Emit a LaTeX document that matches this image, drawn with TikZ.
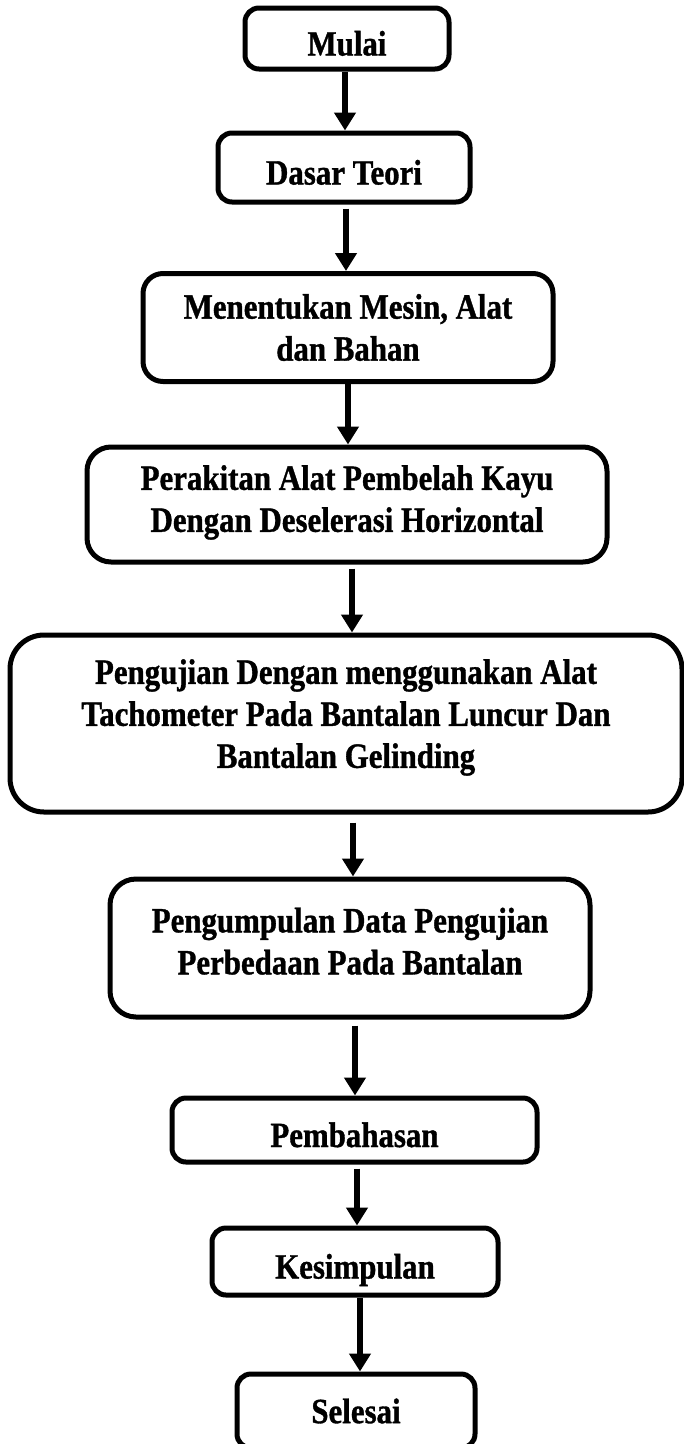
\documentclass[tikz,border=0pt]{standalone}
\usepackage{fontspec}
\setmainfont{Liberation Serif}[FakeStretch=0.87, BoldFeatures={FakeBold=1}]
\usetikzlibrary{arrows.meta}
\tikzset{
  box/.style={draw=black, line width=5pt, rounded corners=14pt, inner sep=0pt,
    align=center, font=\fontsize{35.5}{42}\selectfont\bfseries},
  oneline/.style={text height=34pt, text depth=0pt},
  arr/.style={line width=6pt, -{Triangle[width=21pt,length=18pt]}},
}
\begin{document}
\begin{tikzpicture}[x=1pt,y=-1pt]
\useasboundingbox (0,0) rectangle (684,1444);
\clip (0,0) rectangle (684,1444);
\node[box, oneline, minimum width=204pt, minimum height=61pt] (n1) at (347,38.5) {Mulai};
\node[box, oneline, minimum width=252pt, minimum height=69pt] (n2) at (344,167.5) {Dasar Teori};
\node[box, minimum width=410pt, minimum height=108pt, rounded corners=20pt] (n3) at (348,327.5) {Menentukan Mesin, Alat\\dan Bahan};
\node[box, text depth=12pt, minimum width=520pt, minimum height=115pt, rounded corners=24pt] (n4) at (347,504.5) {Perakitan Alat Pembelah Kayu\\Dengan Deselerasi Horizontal};
\node[box, text depth=20pt, minimum width=672pt, minimum height=177pt, rounded corners=34pt] (n5) at (346,723.5) {Pengujian Dengan menggunakan Alat\\Tachometer Pada Bantalan Luncur Dan\\Bantalan Gelinding};
\node[box, text depth=14pt, minimum width=480pt, minimum height=138pt, rounded corners=26pt] (n6) at (350,948) {Pengumpulan Data Pengujian\\Perbedaan Pada Bantalan};
\node[box, oneline, minimum width=365pt, minimum height=64pt] (n7) at (354.5,1130) {Pembahasan};
\node[box, oneline, minimum width=286pt, minimum height=67pt] (n8) at (355,1261.5) {Kesimpulan};
\node[box, minimum width=238pt, minimum height=74pt] (n9) at (356,1411) {Selesai};
\coordinate (x1) at (345,0);
\coordinate (x2) at (346,0);
\coordinate (x3) at (348,0);
\coordinate (x4) at (352,0);
\coordinate (x5) at (353,0);
\coordinate (x6) at (355,0);
\coordinate (x7) at (357,0);
\coordinate (x8) at (360,0);
\draw[arr] (n1.south -| x1) -- (n2.north -| x1);
\draw[arr, shorten <=4pt] (n2.south -| x2) -- (n3.north -| x2);
\draw[arr] (n3.south -| x3) -- (n4.north -| x3);
\draw[arr, shorten <=4pt] (n4.south -| x4) -- (n5.north -| x4);
\draw[arr, shorten <=8pt] (n5.south -| x5) -- (n6.north -| x5);
\draw[arr, shorten <=6pt] (n6.south -| x6) -- (n7.north -| x6);
\draw[arr, shorten <=4pt] (n7.south -| x7) -- (n8.north -| x7);
\draw[arr] (n8.south -| x8) -- (n9.north -| x8);
\end{tikzpicture}
\end{document}
